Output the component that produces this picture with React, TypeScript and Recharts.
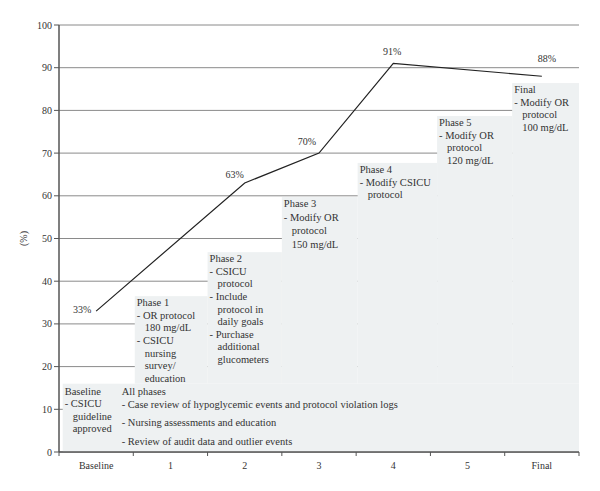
import React from 'react';
import {
  ComposedChart,
  Line,
  XAxis,
  YAxis,
  CartesianGrid,
  ReferenceArea,
  LabelList,
} from 'recharts';

const categories = ['Baseline', '1', '2', '3', '4', '5', 'Final'];
const compliance: (number | null)[] = [33, null, 63, 70, 91, null, 88];
const yTicks = [0, 10, 20, 30, 40, 50, 60, 70, 80, 90, 100];

// phase boxes: start / end on the category scale, and top value (%)
const boxStart = [0.05, 1.02, 2.0, 3.0, 4.02, 5.09, 6.1];
const boxEnd = [7, 2.0, 3.0, 4.02, 5.09, 6.1, 7];
const boxBottom = [0, 16, 16, 16, 16, 16, 16];
const boxTop = [16, 36.5, 46.8, 59.7, 67.7, 78.7, 86.4];

const baselineText = ['Baseline', '- CSICU', '  guideline', '  approved'];
const allPhasesText = [
  'All phases',
  '- Case review of hypoglycemic events and protocol violation logs',
  '- Nursing assessments and education',
  '- Review of audit data and outlier events',
];
const phaseTexts: string[][] = [
  [],
  ['Phase 1', '- OR protocol', '  180 mg/dL', '- CSICU', '  nursing', '  survey/', '  education'],
  ['Phase 2', '- CSICU', '  protocol', '- Include', '  protocol in', '  daily goals', '- Purchase', '  additional', '  glucometers'],
  ['Phase 3', '- Modify OR', '  protocol', '  150 mg/dL'],
  ['Phase 4', '- Modify CSICU', '  protocol'],
  ['Phase 5', '- Modify OR', '  protocol', '  120 mg/dL'],
  ['Final', '- Modify OR', '  protocol', '  100 mg/dL'],
];

const FONT = '"Liberation Serif", "DejaVu Serif", serif';
const TEXT = '#333';
const BOX = '#eef1f2';

const data = categories.map((c, i) => ({ x: i + 0.5, name: c, value: compliance[i] }));
const xTicks: number[] = [];
for (let i = 0; i <= 7; i++) {
  xTicks.push(i);
  if (i < 7) xTicks.push(i + 0.5);
}

const renderLines = (lines: string[], x: number, y: number, lh: number, gaps?: number[]) => {
  let cy = y;
  return lines.map((l, i) => {
    if (i > 0) cy += gaps ? gaps[i - 1] : lh;
    const cont = l.startsWith('  ');
    return (
      <text key={i} x={x + (cont ? 8 : 0)} y={cy} fontSize={10.5} fontFamily={FONT} fill={TEXT}>
        {l.trim()}
      </text>
    );
  });
};

const makeShape = (idx: number) => (p: any) => {
  const { x, y, width, height } = p;
  if (idx === 0) {
    return (
      <g>
        <rect x={x} y={y} width={width} height={height} fill={BOX} />
        {renderLines(baselineText, x + 2, y + 11, 12.5)}
        {renderLines(allPhasesText, x + 59, y + 11, 13, [13, 18, 19])}
      </g>
    );
  }
  return (
    <g>
      <rect x={x} y={y} width={width} height={height} fill={BOX} />
      {renderLines(phaseTexts[idx], x + 2, y + 10, idx === 3 ? 13.5 : 12.6)}
    </g>
  );
};

const XTick = (props: any) => {
  const { x, y, payload } = props;
  const v = payload.value as number;
  if (Number.isInteger(v)) {
    return <line x1={x} x2={x} y1={y} y2={y + 4} stroke="#555" strokeWidth={1} />;
  }
  return (
    <text x={x} y={y + 17} textAnchor="middle" fontSize={10} fontFamily={FONT} fill={TEXT}>
      {categories[Math.floor(v)]}
    </text>
  );
};

const labelOffsets: Record<number, [number, number]> = {
  0: [-14, 2],
  2: [-10, -5],
  3: [-12, -8],
  4: [-1, -8],
  6: [5, -14],
};

const PointLabel = (props: any) => {
  const { x, y, value, index } = props;
  if (value == null) return null;
  const off = labelOffsets[index] || [0, -8];
  return (
    <text x={x + off[0]} y={y + off[1]} textAnchor="middle" fontSize={10} fontFamily={FONT} fill={TEXT}>
      {`${value}%`}
    </text>
  );
};

export default function App() {
  return (
    <ComposedChart
      width={592}
      height={483}
      data={data}
      margin={{ top: 17, right: 21, bottom: 0, left: 0 }}
      style={{ fontFamily: FONT }}
    >
      <XAxis
        dataKey="x"
        type="number"
        domain={[0, 7]}
        ticks={xTicks}
        interval={0}
        tick={<XTick />}
        tickLine={false}
        tickSize={0}
        tickMargin={0}
        height={39}
        axisLine={{ stroke: '#555', strokeWidth: 1.5 }}
      />
      <YAxis
        type="number"
        domain={[0, 100]}
        ticks={yTicks}
        interval={0}
        width={51}
        tickSize={5}
        tickMargin={2}
        tick={{ fontSize: 10, fill: TEXT, fontFamily: FONT }}
        tickLine={{ stroke: '#555' }}
        axisLine={{ stroke: '#555', strokeWidth: 1.5 }}
        label={{
          content: (p: any) => {
            const vb = p.viewBox;
            const cx = vb.x + 17;
            const cy = vb.y + vb.height / 2;
            return (
              <text x={cx} y={cy} transform={`rotate(-90 ${cx} ${cy})`} textAnchor="middle" dominantBaseline="middle" fontSize={10} fontFamily={FONT} fill={TEXT}>
                (%)
              </text>
            );
          },
        }}
      />
      {boxStart.map((s, i) => (
        <ReferenceArea
          key={i}
          x1={s}
          x2={boxEnd[i]}
          y1={boxBottom[i]}
          y2={boxTop[i]}
          ifOverflow="visible"
          shape={makeShape(i)}
        />
      ))}
      <CartesianGrid vertical={false} stroke="#8a8a8a" strokeWidth={1} />
      <Line
        type="linear"
        dataKey="value"
        stroke="#222"
        strokeWidth={1.2}
        dot={false}
        connectNulls
        isAnimationActive={false}
      >
        <LabelList dataKey="value" content={<PointLabel />} />
      </Line>
    </ComposedChart>
  );
}
